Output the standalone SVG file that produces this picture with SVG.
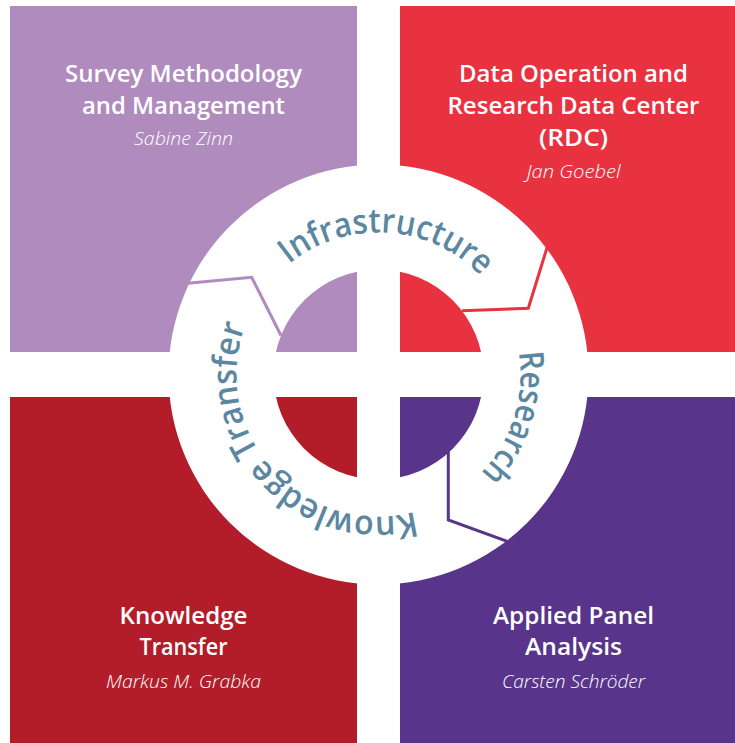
<svg xmlns="http://www.w3.org/2000/svg" xmlns:xlink="http://www.w3.org/1999/xlink" width="735" height="743" viewBox="0 0 735 743">
<style>
.title{font-family:"Open Sans","Noto Sans","Liberation Sans",sans-serif;font-weight:600;font-size:23px;fill:#ffffff;text-anchor:middle}
.name{font-family:"Open Sans","Noto Sans","Liberation Sans",sans-serif;font-style:italic;font-weight:300;font-size:18px;fill:#ffffff;text-anchor:middle}
.ring{font-family:"Open Sans","Noto Sans","Liberation Sans",sans-serif;font-weight:600;font-size:34px;fill:#5b87a1}
.sep{fill:none;stroke-width:3;stroke-linejoin:miter}
</style>
<defs>
<path id="arc" d="M 236.5 374.5 A 142 142 0 1 1 520.5 374.5 A 142 142 0 1 1 236.5 374.5 A 142 142 0 1 1 520.5 374.5 A 142 142 0 1 1 236.5 374.5"/>
</defs>
<rect width="735" height="743" fill="#ffffff"/>
<g id="survey">
<rect x="10" y="6" width="347" height="346" fill="#b08bbe"/>
<text class="title" x="183.5" y="82" textLength="237" lengthAdjust="spacingAndGlyphs">Survey Methodology</text>
<text class="title" x="183.5" y="114" textLength="203" lengthAdjust="spacingAndGlyphs">and Management</text>
<text class="name" x="183.5" y="145" textLength="99" lengthAdjust="spacingAndGlyphs">Sabine Zinn</text>
</g>
<g id="rdc">
<rect x="400" y="6" width="335" height="346" fill="#e8323f"/>
<text class="title" x="573.5" y="82" textLength="229" lengthAdjust="spacingAndGlyphs">Data Operation and</text>
<text class="title" x="573.5" y="114" textLength="252" lengthAdjust="spacingAndGlyphs">Research Data Center</text>
<text class="title" x="573.5" y="146" textLength="69" lengthAdjust="spacingAndGlyphs">(RDC)</text>
<text class="name" x="573.5" y="178" textLength="94" lengthAdjust="spacingAndGlyphs">Jan Goebel</text>
</g>
<g id="knowledge">
<rect x="10" y="397" width="347" height="346" fill="#b31d2a"/>
<text class="title" x="183.5" y="623.5" textLength="128" lengthAdjust="spacingAndGlyphs">Knowledge</text>
<text class="title" x="183.5" y="655" textLength="88" lengthAdjust="spacingAndGlyphs">Transfer</text>
<text class="name" x="183.5" y="688" textLength="155" lengthAdjust="spacingAndGlyphs">Markus M. Grabka</text>
</g>
<g id="applied">
<rect x="400" y="397" width="335" height="346" fill="#58358a"/>
<text class="title" x="573.5" y="623.5" textLength="161" lengthAdjust="spacingAndGlyphs">Applied Panel</text>
<text class="title" x="573.5" y="655" textLength="97" lengthAdjust="spacingAndGlyphs">Analysis</text>
<text class="name" x="573.5" y="688" textLength="143" lengthAdjust="spacingAndGlyphs">Carsten Schröder</text>
</g>
<g id="ring">
<path d="M 168.5 374.5 A 210 210 0 1 1 588.5 374.5 A 210 210 0 1 1 168.5 374.5 Z M 273.5 374.5 A 105 105 0 1 0 483.5 374.5 A 105 105 0 1 0 273.5 374.5 Z" fill="#ffffff" fill-rule="evenodd"/>
</g>
<g id="connectors">
<polyline class="sep" stroke="#b08bbe" points="185,283.6 251.7,277.3 281,335.5"/>
<polyline class="sep" stroke="#e8323f" points="548,244.5 528.3,308.3 462,310.8"/>
<polyline class="sep" stroke="#58358a" points="448.3,449 448.3,520 513,543.5"/>
</g>
<g id="ring-labels">
<text class="ring"><textPath xlink:href="#arc" href="#arc" startOffset="126.4" textLength="210.7" lengthAdjust="spacingAndGlyphs">Infrastructure</textPath></text>
<text class="ring"><textPath xlink:href="#arc" href="#arc" startOffset="423.8" textLength="131.4" lengthAdjust="spacingAndGlyphs">Research</textPath></text>
<text class="ring"><textPath xlink:href="#arc" href="#arc" startOffset="632" textLength="309.8" lengthAdjust="spacingAndGlyphs">Knowledge Transfer</textPath></text>
</g>
</svg>
